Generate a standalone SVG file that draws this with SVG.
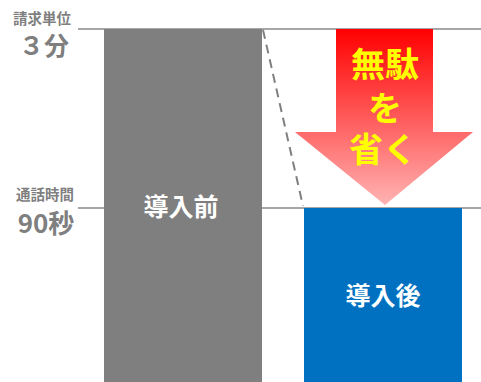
<svg xmlns="http://www.w3.org/2000/svg" width="481" height="382" viewBox="0 0 481 382">
<style>
text{font-family:"Noto Sans CJK JP","Noto Sans CJK SC",sans-serif;font-weight:700;text-anchor:middle}
.g{fill:#7f7f7f}
.w{fill:#fff;font-size:25px}
.y{fill:#ffff00;font-size:34px}
.l{stroke:#a6a6a6;stroke-width:2;fill:none}
</style>
<defs>
<linearGradient id="red" x1="0" y1="0" x2="0" y2="1">
<stop offset="0" stop-color="#ff0000"/>
<stop offset="1" stop-color="#ffb3b3"/>
</linearGradient>
</defs>
<g id="connectors">
<line class="l" x1="78" y1="29" x2="481" y2="29"/>
<line class="l" x1="78" y1="208" x2="481" y2="208"/>
<line x1="263" y1="30" x2="303" y2="206" stroke="#7f7f7f" stroke-width="2" stroke-dasharray="9 6"/>
</g>
<g id="label-unit"><text class="g" x="42" y="24" font-size="14.5">請求単位</text><text class="g" x="44" y="55" font-size="25">３分</text></g>
<g id="label-call"><text class="g" x="45" y="200" font-size="14.5">通話時間</text><text class="g" x="46" y="233" font-size="26">90秒</text></g>
<g id="before"><rect x="104" y="29" width="158" height="353" fill="#7f7f7f"/><text class="w" x="181" y="216">導入前</text></g>
<g id="after"><rect x="304" y="208" width="158" height="174" fill="#0070c0"/><text class="w" x="383" y="305">導入後</text></g>
<g id="arrow"><polygon points="336,29 433,29 433,132 473,132 385,205 295,132 336,132" fill="url(#red)"/>
<text class="y" x="385" y="77">無駄</text><text class="y" x="385" y="121">を</text><text class="y" x="383" y="162">省く</text></g>
</svg>
